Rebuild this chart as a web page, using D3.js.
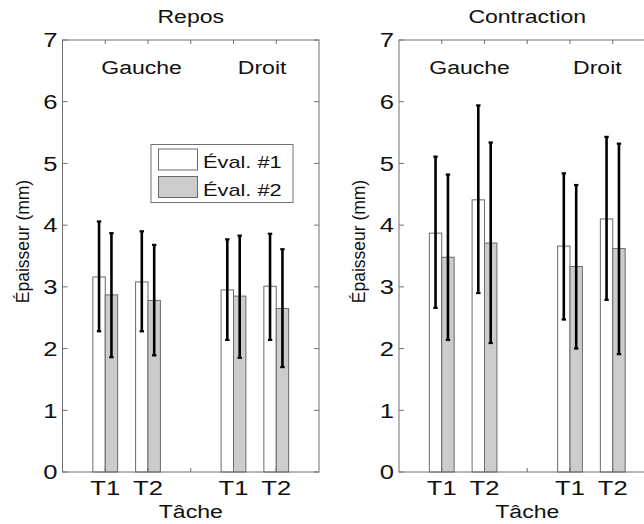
<!DOCTYPE html>
<html>
<head>
<meta charset="utf-8">
<script src="https://cdn.jsdelivr.net/npm/d3@7"></script>
<style>
  body { margin: 0; background: #fff; }
  svg { display: block; }
  text { font-family: "Liberation Sans", Arial, sans-serif; fill: #111; }
</style>
</head>
<body>
<div id="chart"></div>
<script>
// values (mm)
const panels = ["Repos", "Contraction"];
const groups = ["Gauche", "Droit"];
const seriesNames = ["Éval. #1", "Éval. #2"];
const xTickLabels = ["T1", "T2", "", "T1", "T2"];
const barSlots = [1, 2, 4, 5];

const reposMean1 = [3.16, 3.08, 2.95, 3.01];
const reposLow1 = [2.28, 2.28, 2.14, 2.14];
const reposHigh1 = [4.06, 3.90, 3.77, 3.86];
const reposMean2 = [2.87, 2.78, 2.85, 2.65];
const reposLow2 = [1.86, 1.89, 1.85, 1.70];
const reposHigh2 = [3.87, 3.68, 3.83, 3.61];

const contrMean1 = [3.87, 4.41, 3.66, 4.10];
const contrLow1 = [2.66, 2.90, 2.47, 2.79];
const contrHigh1 = [5.11, 5.94, 4.84, 5.43];
const contrMean2 = [3.48, 3.71, 3.33, 3.62];
const contrLow2 = [2.14, 2.09, 2.00, 1.91];
const contrHigh2 = [4.82, 5.34, 4.65, 5.32];

const panelData = [
	[
		{ mean: reposMean1, low: reposLow1, high: reposHigh1 },
		{ mean: reposMean2, low: reposLow2, high: reposHigh2 },
	],
	[
		{ mean: contrMean1, low: contrLow1, high: contrHigh1 },
		{ mean: contrMean2, low: contrLow2, high: contrHigh2 },
	],
];

// layout
const W = 644, H = 524;
const panelLeft = [62.5, 399];
const panelW = 256.5;
const plotTop = 40, plotBottom = 472;
const sx = 1.28; // text in the source is stretched sideways
const barW = 0.29;
const fills = ["#ffffff", "#cccccc"];
const groupLabelX = [[1.85, 4.67], [1.65, 4.64]];
const groupLabelY = 6.45;

const svg = d3.select("#chart").append("svg").attr("width", W).attr("height", H);

const y = d3.scaleLinear().domain([0, 7]).range([plotBottom, plotTop]);

const stretchText = (g, x, yy, txt, size, anchor) =>
	g.append("text")
		.attr("transform", `translate(${x},${yy}) scale(${sx},1)`)
		.attr("text-anchor", anchor)
		.style("font-size", size + "px")
		.text(txt);

panels.forEach((title, p) => {
	const x0 = panelLeft[p];
	const x = d3.scaleLinear().domain([0, 6]).range([x0, x0 + panelW]);
	const g = svg.append("g");

	// bars + error bars
	panelData[p].forEach((s, k) => {
		const off = k === 0 ? -barW : 0;
		g.selectAll(null)
			.data(s.mean)
			.join("rect")
			.attr("x", (d, i) => x(barSlots[i] + off))
			.attr("width", x(barW) - x(0))
			.attr("y", (d) => y(d))
			.attr("height", (d) => y(0) - y(d))
			.attr("fill", fills[k])
			.attr("stroke", "#6a6a6a")
			.attr("stroke-width", 1);

		const cx = (i) => x(barSlots[i] + off + barW / 2);
		g.selectAll(null)
			.data(s.mean)
			.join("line")
			.attr("x1", (d, i) => cx(i))
			.attr("x2", (d, i) => cx(i))
			.attr("y1", (d, i) => y(s.low[i]))
			.attr("y2", (d, i) => y(s.high[i]))
			.attr("stroke", "#000")
			.attr("stroke-width", 2.6);
		["low", "high"].forEach((key) => {
			g.selectAll(null)
				.data(s[key])
				.join("line")
				.attr("x1", (d, i) => cx(i) - 2.2)
				.attr("x2", (d, i) => cx(i) + 2.2)
				.attr("y1", (d) => y(d))
				.attr("y2", (d) => y(d))
				.attr("stroke", "#000")
				.attr("stroke-width", 2.2);
		});
	});

	// box and inward ticks
	g.append("rect")
		.attr("x", x0).attr("y", plotTop)
		.attr("width", panelW).attr("height", plotBottom - plotTop)
		.attr("fill", "none").attr("stroke", "#707070").attr("stroke-width", 1);

	const yTicks = y.ticks(7);
	g.selectAll(null).data(yTicks).join("path")
		.attr("d", (d) => `M${x0},${y(d)}h5M${x0 + panelW},${y(d)}h-5`)
		.attr("stroke", "#707070");
	g.selectAll(null).data(xTickLabels).join("path")
		.attr("d", (d, i) => `M${x(i + 1)},${plotBottom}v-4M${x(i + 1)},${plotTop}v4`)
		.attr("stroke", "#707070");

	// tick labels
	yTicks.forEach((t) => stretchText(g, x0 - 5, y(t) + 7.3, t, 20, "end"));
	xTickLabels.forEach((t, i) => stretchText(g, x(i + 1), 495, t, 20, "middle"));

	// titles and labels
	stretchText(g, x0 + panelW / 2, 22.5, title, 18, "middle");
	stretchText(g, x0 + panelW / 2, 518, "Tâche", 18, "middle");
	groups.forEach((name, j) =>
		stretchText(g, x(groupLabelX[p][j]), y(groupLabelY), name, 18, "middle")
	);
	g.append("text")
		.attr("transform", `translate(${x0 - 34},${241.5}) scale(1.1,1) rotate(-90)`)
		.attr("text-anchor", "middle")
		.style("font-size", "17.5px")
		.text("Épaisseur (mm)");

	// legend (left panel only)
	if (p === 0) {
		const lg = g.append("g");
		lg.append("rect")
			.attr("x", 151).attr("y", 144.5).attr("width", 142).attr("height", 58)
			.attr("fill", "#fff").attr("stroke", "#707070");
		seriesNames.forEach((nm, k) => {
			lg.append("rect")
				.attr("x", 158.5).attr("y", 149 + k * 27.5)
				.attr("width", 39).attr("height", 21)
				.attr("fill", fills[k]).attr("stroke", "#6a6a6a");
			stretchText(lg, 203, 168 + k * 28, nm, 17, "start");
		});
	}
});
</script>
</body>
</html>
